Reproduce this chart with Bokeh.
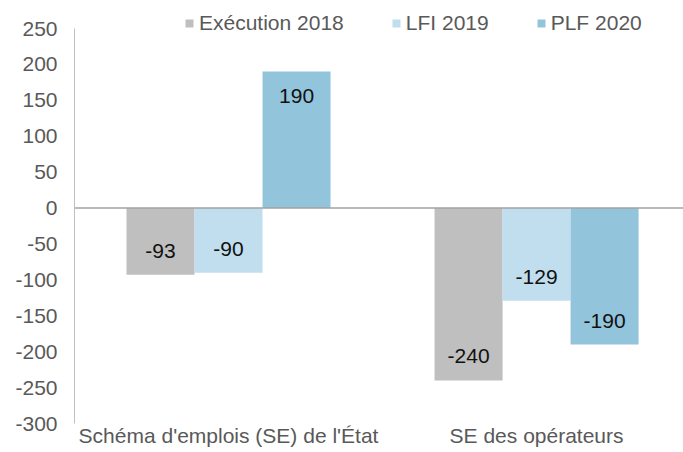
from bokeh.plotting import figure
from bokeh.models import (ColumnDataSource, Range1d, FixedTicker, Span, Legend, LegendItem)
from bokeh.core.properties import value
from bokeh.embed import file_html
from bokeh.resources import INLINE

categories = ["Schéma d'emplois (SE) de l'État", "SE des opérateurs"]
series_names = ["Exécution 2018", "LFI 2019", "PLF 2020"]
execution_2018 = [-93, -240]
lfi_2019 = [-90, -129]
plf_2020 = [190, -190]
y_ticks = [-300, -250, -200, -150, -100, -50, 0, 50, 100, 150, 200, 250]

colors = ["#BFBFBF", "#C1DEEE", "#92C4DC"]
FONT = "Liberation Sans"

y_min, y_max = min(y_ticks), max(y_ticks)
p = figure(width=683, height=449, output_backend="svg", toolbar_location=None,
           x_range=Range1d(0, 1.977), y_range=Range1d(y_min, y_max + 39),
           min_border_left=74, min_border_right=0, min_border_top=0, min_border_bottom=0)
p.outline_line_color = None
p.grid.grid_line_color = None
p.background_fill_color = "white"
p.border_fill_color = "white"

bar_w = 0.2208
offsets = [-bar_w, 0.0, bar_w]
renderers = []
for i, (name, vals) in enumerate(zip(series_names, [execution_2018, lfi_2019, plf_2020])):
    xs = [k + 0.5 + offsets[i] for k in range(len(categories))]
    src = ColumnDataSource(dict(
        x=xs, top=vals,
        lab=[str(v) for v in vals],
        yo=[24 if v > 0 else -24 for v in vals],
    ))
    r = p.vbar(x="x", top="top", bottom=0, width=bar_w, source=src,
               fill_color=colors[i], line_color=None)
    renderers.append((name, r))
    p.text(x="x", y="top", text="lab", y_offset="yo", source=src,
           text_align="center", text_baseline="middle",
           text_font=value(FONT), text_font_size="21px", text_color="#111111")

p.add_layout(Span(location=0, dimension="width", line_color="#a3a3a3", line_width=1.5))

# y axis
ya = p.yaxis[0]
ya.ticker = FixedTicker(ticks=y_ticks)
ya.bounds = (y_min, y_max)
ya.major_label_overrides = {t: str(t) for t in y_ticks}
ya.major_tick_line_color = None
ya.minor_tick_line_color = None
ya.major_tick_out = 0
ya.major_tick_in = 0
ya.minor_tick_out = 0
ya.axis_line_color = "#c0c0c0"
ya.major_label_standoff = 17
ya.major_label_text_font = FONT
ya.major_label_text_font_size = "21px"
ya.major_label_text_color = "#595959"

# x axis
xa = p.xaxis[0]
xa.ticker = FixedTicker(ticks=[k + 0.5 for k in range(len(categories))])
xa.major_label_overrides = {k + 0.5: c for k, c in enumerate(categories)}
xa.major_tick_line_color = None
xa.minor_tick_line_color = None
xa.major_tick_out = 0
xa.major_tick_in = 0
xa.minor_tick_out = 0
xa.axis_line_color = None
xa.major_label_standoff = 0
xa.major_label_text_font = FONT
xa.major_label_text_font_size = "21px"
xa.major_label_text_color = "#595959"

legend = Legend(items=[LegendItem(label=n, renderers=[r]) for n, r in renderers],
                orientation="horizontal", location=(110, 388),
                border_line_color=None, background_fill_alpha=0,
                padding=0, margin=0, spacing=47,
                glyph_width=10, glyph_height=10, label_standoff=5,
                label_text_font=FONT, label_text_font_size="21px",
                label_text_color="#595959", label_height=22)
p.add_layout(legend, "center")

open("out.html", "w").write(file_html(p, INLINE))
